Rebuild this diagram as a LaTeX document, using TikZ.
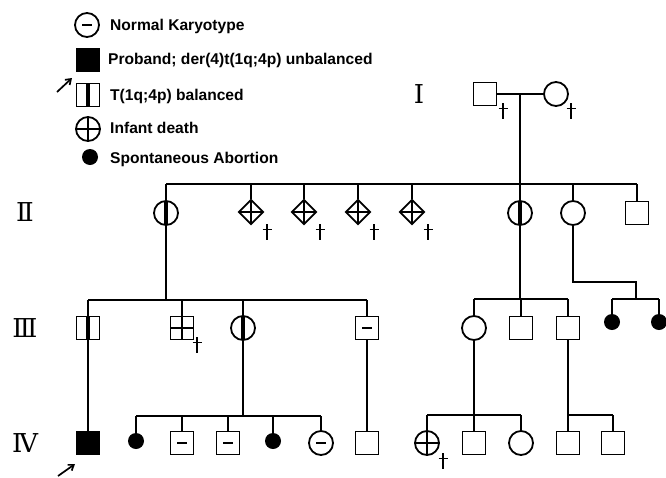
\documentclass[tikz,border=0pt]{standalone}
\usepackage{fontspec}
\newfontfamily\lgdfont{Liberation Sans}
\newfontfamily\genfont{DejaVu Serif}
\usetikzlibrary{shapes.geometric,arrows.meta}
\tikzset{
 ln/.style={line width=1.7pt},
 male/.style={draw, rectangle, line width=1.8pt, minimum size=23pt, inner sep=0pt},
 female/.style={draw, circle, line width=1.8pt, minimum size=24pt, inner sep=0pt},
 unk/.style={draw, diamond, line width=1.8pt, minimum size=25pt, inner sep=0pt},
 sab/.style={circle, fill=black, minimum size=16pt, inner sep=0pt},
 proband/.style={fill=black},
 carrier/.style={path picture={\fill ([xshift=-2.3pt]path picture bounding box.north) rectangle ([xshift=2.3pt]path picture bounding box.south);}},
 dead/.style={path picture={\draw[line width=1.5pt] (path picture bounding box.north) -- (path picture bounding box.south) (path picture bounding box.west) -- (path picture bounding box.east);}},
 normal/.style={path picture={\draw[line width=2.4pt] ([xshift=-5pt]path picture bounding box.center) -- ([xshift=5pt]path picture bounding box.center);}},
 gen/.style={font=\genfont\fontsize{26}{26}\selectfont, inner sep=0pt},
 lgd/.style={font=\lgdfont\bfseries\fontsize{15.6}{15.6}\selectfont, anchor=west, inner sep=0pt},
 dag/.pic={\draw[line width=1.6pt] (0,-8) -- (0,8) (-4.5,-2.5) -- (4.5,-2.5);},
}
\begin{document}
\begin{tikzpicture}[x=1pt,y=-1pt]
\useasboundingbox (0,0) rectangle (666,477);
% legend
\node[female, normal] (L1) at (87,25) {};
\node[lgd] (T1) at (110,26) {Normal Karyotype};
\node[male, proband] (L2) at (88,60) {};
\node[lgd] (T2) at (108,60) {Proband; der(4)t(1q;4p) unbalanced};
\coordinate (La) at (57,92);
\coordinate (Lb) at (72,78);
\draw[ln, -{Straight Barb[length=5pt,width=7pt]}] (La) -- (Lb);
\node[male, carrier] (L3) at (88,95) {};
\node[lgd] (T3) at (110,96) {T(1q;4p) balanced};
\node[female, dead] (L4) at (88,129) {};
\node[lgd] (T4) at (110,128) {Infant death};
\node[sab] (L5) at (90,157) {};
\node[lgd] (T5) at (110,159) {Spontaneous Abortion};
% generation labels
\node[gen] (gI) at (419,94) {Ⅰ};
\node[gen] (gII) at (25,212) {Ⅱ};
\node[gen] (gIII) at (25,328) {Ⅲ};
\node[gen] (gIV) at (25,443) {Ⅳ};
% generation I
\node[male] (I1) at (485,94) {};
\node[female] (I2) at (556,94) {};
\pic at (503,111) {dag};
\pic at (571,111) {dag};
\coordinate (mI) at (520,94);
\coordinate (sII) at (520,184);
\coordinate (sIIL) at (166,184);
\coordinate (sIIR) at (637,184);
\draw[ln] (I1) -- (I2);
\draw[ln] (mI) -- (sII);
\draw[ln] (sIIL) -- (sIIR);
% generation II
\node[female, carrier] (II1) at (166,213) {};
\node[unk, dead] (II2) at (251,212) {};
\node[unk, dead] (II3) at (304,212) {};
\node[unk, dead] (II4) at (358,212) {};
\node[unk, dead] (II5) at (412,212) {};
\node[female, carrier] (II6) at (520,213) {};
\node[female] (II7) at (573,213) {};
\node[male] (II8) at (637,213) {};
\pic at (267,232) {dag};
\pic at (320,232) {dag};
\pic at (374,232) {dag};
\pic at (428,232) {dag};
\foreach \n in {II1,II2,II3,II4,II5,II6,II7,II8}
  \draw[ln] (\n.north) -- (\n.north |- sII);
% generation III left
\coordinate (sIIIa) at (166,300);
\coordinate (sIIIaL) at (88,300);
\coordinate (sIIIaR) at (367,300);
\draw[ln] (II1.south) -- (sIIIa);
\draw[ln] (sIIIaL) -- (sIIIaR);
\node[male, carrier] (III1) at (88,328) {};
\node[male, dead] (III2) at (182,328) {};
\node[female, carrier] (III3) at (243,328) {};
\node[male, normal] (III4) at (367,328) {};
\pic at (197,345) {dag};
\foreach \n in {III1,III2,III3,III4}
  \draw[ln] (\n.north) -- (\n.north |- sIIIa);
% generation III right
\coordinate (sIIIb) at (520,299);
\coordinate (sIIIbL) at (474,299);
\coordinate (sIIIbR) at (568,299);
\draw[ln] (II6.south) -- (sIIIb);
\draw[ln] (sIIIbL) -- (sIIIbR);
\node[female] (III5) at (474,328) {};
\node[male] (III6) at (521,328) {};
\node[male] (III7) at (568,328) {};
\foreach \n in {III5,III6,III7}
  \draw[ln] (\n.north) -- (\n.north |- sIIIb);
\coordinate (kII7) at (636,282);
\coordinate (sIIIc) at (636,299);
\coordinate (sIIIcL) at (612,299);
\coordinate (sIIIcR) at (659,299);
\draw[ln] (II7.south) |- (kII7) -- (sIIIc);
\draw[ln] (sIIIcL) -- (sIIIcR);
\node[sab] (III8) at (612,322) {};
\node[sab] (III9) at (659,322) {};
\foreach \n in {III8,III9}
  \draw[ln] (\n.north) -- (\n.north |- sIIIc);
% generation IV
\node[male, proband] (IV1) at (88,443) {};
\draw[ln] (III1.south) -- (IV1.north);
\coordinate (Pa) at (58,476);
\coordinate (Pb) at (75,464);
\draw[ln, -{Straight Barb[length=5pt,width=7pt]}] (Pa) -- (Pb);
\coordinate (sIVa) at (243,416);
\coordinate (sIVaL) at (136,416);
\coordinate (sIVaR) at (321,416);
\draw[ln] (III3.south) -- (sIVa);
\draw[ln] (sIVaL) -- (sIVaR);
\node[sab] (IV2) at (136,441) {};
\node[male, normal] (IV3) at (182,443) {};
\node[male, normal] (IV4) at (228,443) {};
\node[sab] (IV5) at (273,441) {};
\node[female, normal] (IV6) at (321,443) {};
\foreach \n in {IV2,IV3,IV4,IV5,IV6}
  \draw[ln] (\n.north) -- (\n.north |- sIVa);
\node[male] (IV7) at (367,443) {};
\draw[ln] (III4.south) -- (IV7.north);
\coordinate (sIVb) at (474,415);
\coordinate (sIVbL) at (427,415);
\coordinate (sIVbR) at (521,415);
\draw[ln] (III5.south) -- (sIVb);
\draw[ln] (sIVbL) -- (sIVbR);
\node[female, dead] (IV8) at (427,443) {};
\node[male] (IV9) at (474,443) {};
\node[female] (IV10) at (521,443) {};
\pic at (443,461) {dag};
\foreach \n in {IV8,IV9,IV10}
  \draw[ln] (\n.north) -- (\n.north |- sIVb);
\coordinate (sIVc) at (568,415);
\coordinate (sIVcR) at (613,415);
\draw[ln] (III7.south) -- (sIVc);
\draw[ln] (sIVc) -- (sIVcR);
\node[male] (IV11) at (568,443) {};
\node[male] (IV12) at (613,443) {};
\foreach \n in {IV11,IV12}
  \draw[ln] (\n.north) -- (\n.north |- sIVc);
\end{tikzpicture}
\end{document}
